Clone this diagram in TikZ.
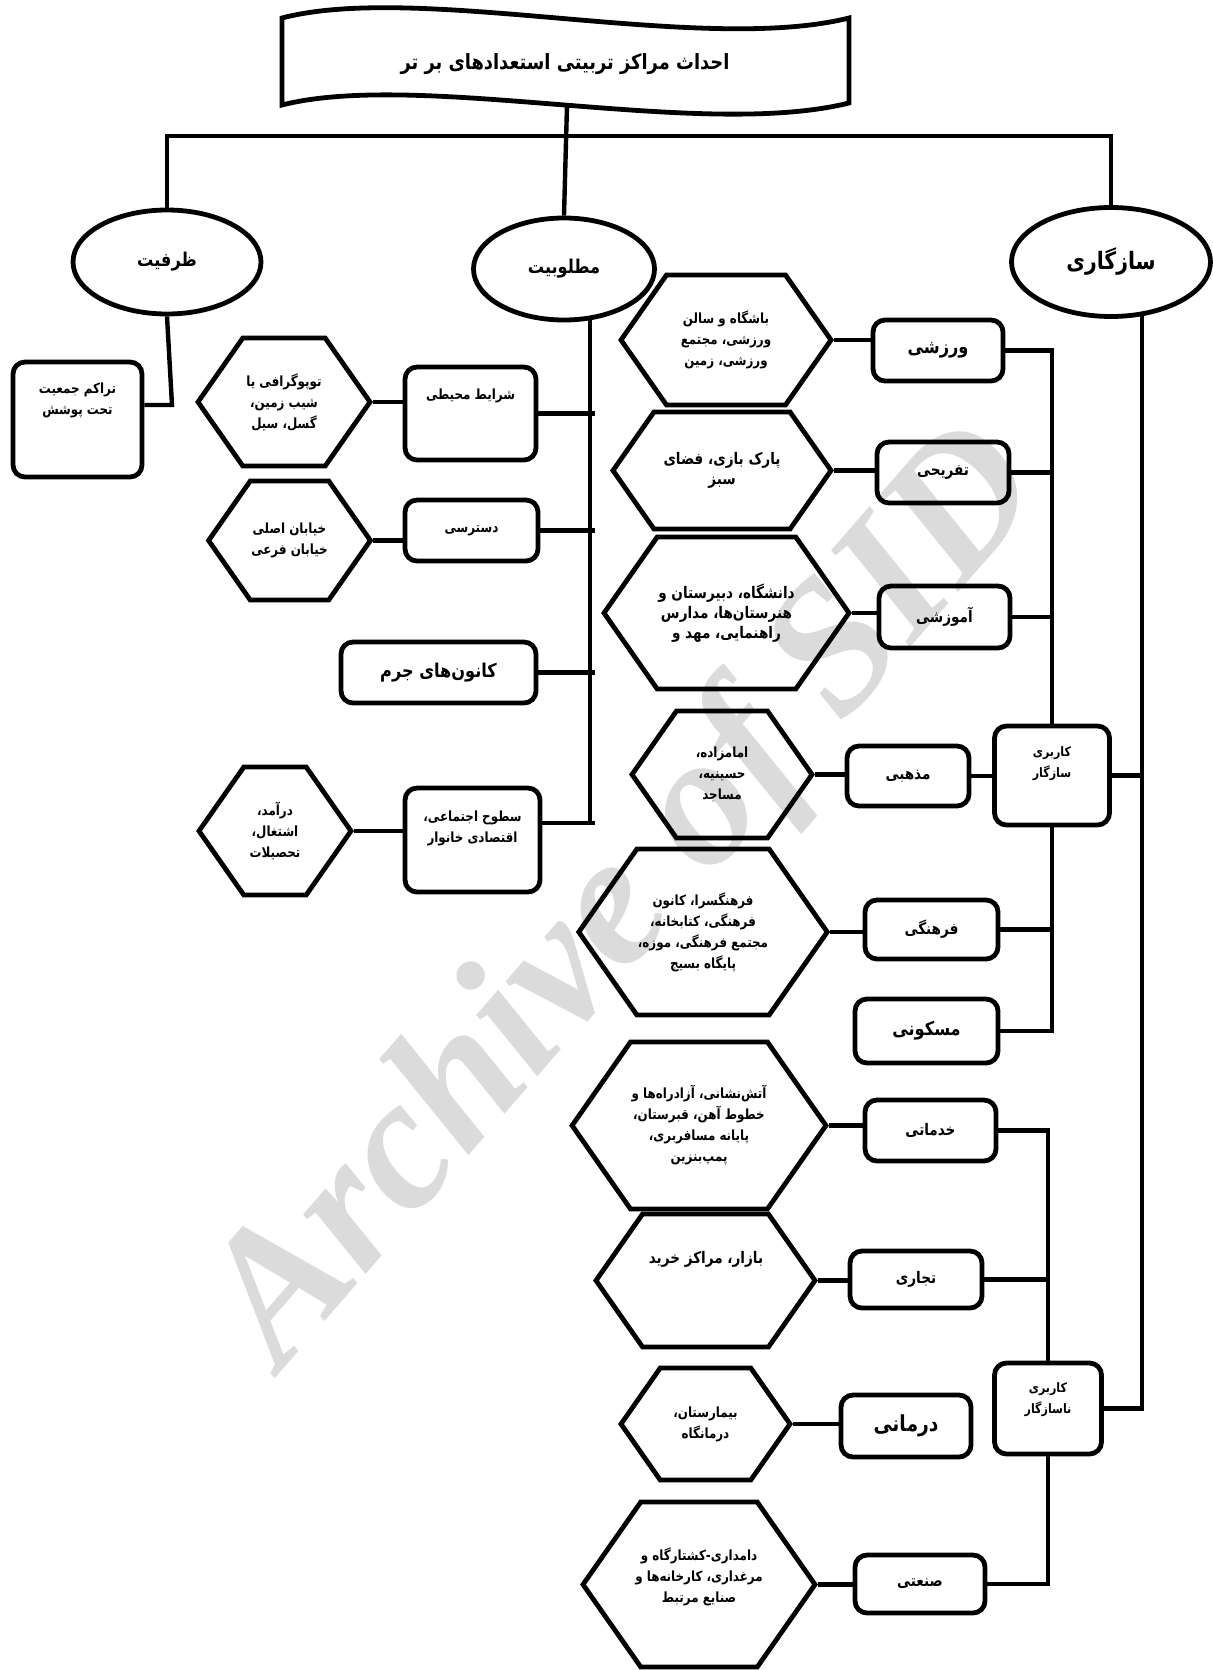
\documentclass[tikz,border=0pt]{standalone}
\usepackage{fontspec}
\TeXXeTstate=1
\newfontfamily\farsi[Script=Arabic,FakeStretch=0.85]{DejaVu Sans}
\newfontfamily\wmfont{Liberation Serif}
\usetikzlibrary{shapes.geometric,shapes.symbols}
\newcommand{\fa}[1]{\beginR #1\endR}

\begin{document}
\begin{tikzpicture}[x=0.5pt,y=-0.5pt,line width=2.2pt,
    every node/.style={align=center,inner sep=0.5pt,font=\farsi\bfseries\fontsize{7}{10.5}\selectfont},
    oval/.style={draw,ellipse,line width=2.4pt},
    box/.style={draw,rounded corners=6pt,line width=2.4pt},
    hexa/.style={draw,signal,signal to=east and west,signal pointer angle=110,line width=2.4pt},
    mid/.style={font=\farsi\bfseries\fontsize{8}{10}\selectfont},
    big/.style={font=\farsi\bfseries\fontsize{9.5}{12}\selectfont},
    tiny/.style={font=\farsi\bfseries\fontsize{6.5}{10.5}\selectfont}]
  \useasboundingbox (0,0) rectangle (1213,1670);
  % ------ titre -----------------------------
  \draw[line width=2.4pt] (282,18) .. controls (420,-18) and (700,55) .. (849,18) -- (849,103)
    .. controls (700,140) and (420,70) .. (282,105) -- cycle;
  \node[font=\farsi\bfseries\fontsize{10.5}{12}\selectfont] (titre) at (565,64) {\fa{احداث مراکز تربیتی استعدادهای بر تر}};
  \coordinate (banS) at (567,105);
  \node[oval,big,minimum width=94pt,minimum height=52pt] (zarfiat) at (167,262) {\fa{ظرفیت}};
  \node[oval,big,minimum width=90.5pt,minimum height=51pt] (matloob) at (564,269) {\fa{مطلوبیت}};
  \node[oval,minimum width=99.5pt,minimum height=54.5pt,font=\farsi\bfseries\fontsize{12}{14}\selectfont] (sazgari) at (1111,262) {\fa{سازگاری}};
  \coordinate (barL) at (167,136);
  \coordinate (barR) at (1111,136);
  \draw (zarfiat.north) -- (barL) -- (barR) -- (sazgari.north);
  \draw (banS) -- (matloob.north);
  % ------ ظرفیت -----------------------------
  \node[box,minimum width=64.5pt,minimum height=57.5pt] (tarakom) at (77.5,419.5) {};
  \node (tarakomT) at (77.5,400) {\fa{تراکم جمعیت}\\\fa{تحت پوشش}};
  \coordinate (zk) at (172,405);
  \draw (zarfiat.south) -- (zk) -- (zk -| tarakom.east);
  % ------ مطلوبیت -----------------------------
  \node[box,minimum width=65.5pt,minimum height=46.5pt] (sharayet) at (470.5,413.5) {};
  \node (sharayetT) at (470.5,396) {\fa{شرایط محیطی}};
  \node[box,minimum width=66.5pt,minimum height=30.5pt] (dastresi) at (471.5,530.5) {\fa{دسترسی}};
  \node[box,big,minimum width=97.5pt,minimum height=30.5pt] (kanoon) at (438.5,672.5) {\fa{کانون^^^^200cهای جرم}};
  \node[box,minimum width=67.5pt,minimum height=52pt] (sotooh) at (472.5,840) {};
  \node (sotoohT) at (472.5,828) {\fa{سطوح اجتماعی،}\\\fa{اقتصادی خانوار}};
  \node[hexa,minimum width=86pt,minimum height=64pt] (topo) at (284,402) {\fa{توپوگرافی یا}\\\fa{شیب زمین،}\\\fa{گسل، سیل}};
  \node[hexa,minimum width=77.5pt,minimum height=59.5pt] (khiaban) at (289.5,540.5) {\fa{خیابان اصلی}\\\fa{خیابان فرعی}};
  \node[hexa,minimum width=76pt,minimum height=64pt] (daramad) at (275,831) {\fa{درآمد،}\\\fa{اشتغال،}\\\fa{تحصیلات}};
  \coordinate (mbtop) at (590,316);
  \coordinate (mtick) at (595,823);
  \draw (mbtop) -- (mbtop |- mtick);
  \draw (sharayet.east) -- (sharayet.east -| mtick);
  \draw (dastresi.east) -- (dastresi.east -| mtick);
  \draw (kanoon.east) -- (kanoon.east -| mtick);
  \draw (mtick) -- (mtick -| sotooh.east);
  \draw (topo.east) -- (topo.east -| sharayet.west);
  \draw (khiaban.east) -- (khiaban.east -| dastresi.west);
  \draw (daramad.east) -- (daramad.east -| sotooh.west);
  % ------ سازگاری -----------------------------
  \node[box,big,minimum width=65pt,minimum height=30.5pt] (varzeshi) at (938,350.5) {\fa{ورزشی}};
  \node[box,mid,minimum width=66pt,minimum height=30.5pt] (tafrihi) at (943,472.5) {\fa{تفریحی}};
  \node[box,mid,minimum width=65.5pt,minimum height=31pt] (amoozeshi) at (944.5,617) {\fa{آموزشی}};
  \node[box,mid,minimum width=61pt,minimum height=30pt] (mazhabi) at (908,776) {\fa{مذهبی}};
  \node[box,mid,minimum width=66.5pt,minimum height=29.5pt] (farhangi) at (931.5,929.5) {\fa{فرهنگی}};
  \node[box,big,minimum width=71.5pt,minimum height=32pt] (maskooni) at (926.5,1031) {\fa{مسکونی}};
  \node[box,mid,minimum width=65.5pt,minimum height=30.5pt] (khadamati) at (930.5,1130.5) {\fa{خدماتی}};
  \node[box,mid,minimum width=66pt,minimum height=28.5pt] (tejari) at (916,1279.5) {\fa{تجاری}};
  \node[box,font=\farsi\bfseries\fontsize{11}{12}\selectfont,minimum width=65pt,minimum height=31pt] (darmani) at (906,1426) {\fa{درمانی}};
  \node[box,mid,minimum width=65pt,minimum height=29pt] (sanati) at (920,1584) {\fa{صنعتی}};
  \node[box,minimum width=57.5pt,minimum height=49.5pt] (sazgar) at (1052,775.5) {};
  \node[tiny] (sazgarT) at (1052,764) {\fa{کاربری}\\\fa{سازگار}};
  \node[box,minimum width=53.5pt,minimum height=45.5pt] (nasazgar) at (1048,1408.5) {};
  \node[tiny] (nasazgarT) at (1048,1400) {\fa{کاربری}\\\fa{ناسازگار}};
  \node[hexa,minimum width=105pt,minimum height=65pt] (bashgah) at (726,340) {\fa{باشگاه و سالن}\\\fa{ورزشی، مجتمع}\\\fa{ورزشی، زمین}};
  \node[hexa,mid,minimum width=109pt,minimum height=58.5pt] (park) at (722,470.5) {\fa{پارک بازی، فضای}\\\fa{سبز}};
  \node[hexa,mid,minimum width=122.5pt,minimum height=76pt] (daneshgah) at (726.5,613) {\fa{دانشگاه، دبیرستان و}\\\fa{هنرستان^^^^200cها، مدارس}\\\fa{راهنمایی، مهد و}};
  \node[hexa,minimum width=90pt,minimum height=63.5pt] (emamzadeh) at (722,774.5) {\fa{امامزاده،}\\\fa{حسینیه،}\\\fa{مساجد}};
  \node[hexa,minimum width=115pt,minimum height=83pt] (farhangsara) at (703,932) {\fa{فرهنگسرا، کانون}\\\fa{فرهنگی، کتابخانه،}\\\fa{مجتمع فرهنگی، موزه،}\\\fa{پایگاه بسیج}};
  \node[hexa,minimum width=116pt,minimum height=83.5pt] (atash) at (699,1125.5) {\fa{آتش^^^^200cنشانی، آزادراه^^^^200cها و}\\\fa{خطوط آهن، قبرستان،}\\\fa{پایانه مسافربری،}\\\fa{پمپ^^^^200cبنزین}};
  \node[hexa,minimum width=109.5pt,minimum height=66.5pt] (bazar) at (705.5,1280.5) {};
  \node[mid] (bazarT) at (706,1259) {\fa{بازار، مراکز خرید}};
  \node[hexa,minimum width=84.5pt,minimum height=56pt] (bimarestan) at (705.5,1424) {\fa{بیمارستان،}\\\fa{درمانگاه}};
  \node[hexa,minimum width=116pt,minimum height=82.5pt] (damdari) at (699,1584.5) {};
  \node (damdariT) at (699,1577) {\fa{دامداری-کشتارگاه و}\\\fa{مرغداری، کارخانه^^^^200cها و}\\\fa{صنایع مرتبط}};
  \draw (bashgah.east) -- (bashgah.east -| varzeshi.west);
  \draw (park.east) -- (park.east -| tafrihi.west);
  \draw (daneshgah.east) -- (daneshgah.east -| amoozeshi.west);
  \draw (emamzadeh.east) -- (emamzadeh.east -| mazhabi.west);
  \draw (farhangsara.east) -- (farhangsara.east -| farhangi.west);
  \draw (atash.east) -- (atash.east -| khadamati.west);
  \draw (bazar.east) -- (bazar.east -| tejari.west);
  \draw (bimarestan.east) -- (bimarestan.east -| darmani.west);
  \draw (damdari.east) -- (damdari.east -| sanati.west);
  \draw (varzeshi.east) -| (sazgar.north);
  \draw (tafrihi.east) -- (tafrihi.east -| sazgar.north);
  \draw (amoozeshi.east) -- (amoozeshi.east -| sazgar.north);
  \draw (mazhabi.east) -- (mazhabi.east -| sazgar.west);
  \draw (farhangi.east) -- (farhangi.east -| sazgar.south);
  \draw (maskooni.east) -| (sazgar.south);
  \draw (khadamati.east) -| (nasazgar.north);
  \draw (tejari.east) -- (tejari.east -| nasazgar.north);
  \draw (nasazgar.south) |- (sanati.east);
  \coordinate (mainT) at (1142,313);
  \draw (mainT) -- (mainT |- nasazgar.east) -- (nasazgar.east);
  \draw (sazgar.east) -- (sazgar.east -| mainT);
  % ------ filigrane -----------------------------
  \node[font=\wmfont\bfseries\itshape\fontsize{94}{94}\selectfont,text=black,text opacity=0.14,rotate=49] (wm) at (630,900) {Archive of SID};
\end{tikzpicture}
\end{document}
